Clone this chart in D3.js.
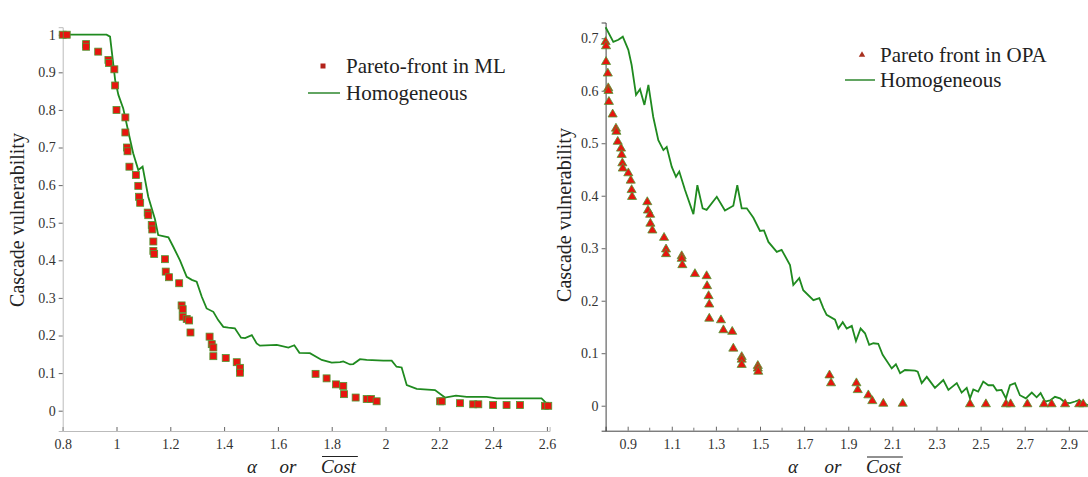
<!DOCTYPE html>
<html><head><meta charset="utf-8">
<script src="https://cdn.jsdelivr.net/npm/d3@7/dist/d3.min.js"></script>
<style>
body{margin:0;background:#fff;}
svg text{font-family:'Liberation Serif','DejaVu Serif','Liberation Sans',Arial,sans-serif;}
</style></head>
<body><svg id="chart" width="1088" height="477"></svg>
<script>
// ---------- DATA ----------
const leftXTicks = [0.8,1,1.2,1.4,1.6,1.8,2,2.2,2.4,2.6];
const leftYTicks = [0,0.1,0.2,0.3,0.4,0.5,0.6,0.7,0.8,0.9,1];
const rightXTicks = [0.9,1.1,1.3,1.5,1.7,1.9,2.1,2.3,2.5,2.7,2.9];
const rightXMinor = [1.0,1.2,1.4,1.6,1.8,2.0,2.2,2.4,2.6,2.8];
const rightYTicks = [0,0.1,0.2,0.3,0.4,0.5,0.6,0.7];

const leftPareto = [[0.80,1.0],[0.815,1.0],[0.887,0.975],[0.887,0.968],[0.932,0.955],[0.97,0.933],[0.972,0.925],[0.992,0.908],[0.995,0.865],[1.0,0.80],[1.033,0.78],[1.033,0.74],[1.039,0.70],[1.041,0.69],[1.048,0.649],[1.072,0.627],[1.081,0.598],[1.084,0.569],[1.088,0.553],[1.116,0.527],[1.118,0.52],[1.131,0.494],[1.133,0.482],[1.137,0.45],[1.137,0.425],[1.14,0.417],[1.18,0.403],[1.183,0.37],[1.195,0.355],[1.233,0.339],[1.242,0.28],[1.246,0.27],[1.246,0.25],[1.261,0.244],[1.27,0.24],[1.275,0.208],[1.346,0.197],[1.354,0.177],[1.36,0.168],[1.36,0.145],[1.406,0.14],[1.447,0.129],[1.459,0.114],[1.459,0.101],[1.74,0.098],[1.781,0.086],[1.816,0.07],[1.843,0.066],[1.846,0.044],[1.889,0.035],[1.93,0.031],[1.946,0.031],[1.967,0.025],[2.203,0.025],[2.209,0.025],[2.277,0.02],[2.326,0.017],[2.345,0.017],[2.40,0.015],[2.45,0.015],[2.50,0.015],[2.593,0.013],[2.605,0.013]];

const leftHomo = [[0.8,1.0],[0.963,1.0],[0.976,0.995],[0.995,0.879],[1.007,0.84],[1.025,0.804],[1.044,0.742],[1.062,0.685],[1.081,0.64],[1.097,0.649],[1.118,0.569],[1.143,0.509],[1.155,0.467],[1.193,0.461],[1.211,0.436],[1.236,0.40],[1.261,0.356],[1.28,0.348],[1.298,0.343],[1.317,0.303],[1.335,0.272],[1.36,0.263],[1.378,0.241],[1.397,0.223],[1.416,0.221],[1.44,0.219],[1.463,0.194],[1.478,0.193],[1.503,0.201],[1.521,0.179],[1.533,0.173],[1.596,0.175],[1.639,0.168],[1.661,0.174],[1.68,0.154],[1.719,0.153],[1.763,0.135],[1.8,0.128],[1.831,0.129],[1.843,0.131],[1.868,0.123],[1.88,0.124],[1.905,0.137],[1.93,0.135],[1.992,0.133],[2.023,0.133],[2.041,0.117],[2.06,0.115],[2.079,0.068],[2.116,0.058],[2.184,0.055],[2.221,0.035],[2.262,0.04],[2.302,0.037],[2.376,0.037],[2.413,0.033],[2.58,0.033],[2.605,0.015]];

const rightPareto = [[0.8,0.693],[0.802,0.685],[0.802,0.655],[0.81,0.633],[0.812,0.605],[0.813,0.6],[0.815,0.579],[0.832,0.555],[0.847,0.528],[0.849,0.522],[0.855,0.503],[0.87,0.49],[0.873,0.478],[0.876,0.462],[0.878,0.452],[0.903,0.443],[0.914,0.429],[0.918,0.411],[0.92,0.398],[0.989,0.388],[0.992,0.372],[1.002,0.364],[1.003,0.347],[1.012,0.334],[1.065,0.32],[1.074,0.298],[1.074,0.289],[1.145,0.285],[1.145,0.28],[1.148,0.268],[1.205,0.251],[1.258,0.247],[1.26,0.228],[1.267,0.209],[1.27,0.193],[1.27,0.166],[1.323,0.163],[1.334,0.144],[1.374,0.141],[1.379,0.109],[1.417,0.093],[1.417,0.088],[1.417,0.078],[1.49,0.076],[1.49,0.071],[1.492,0.065],[1.815,0.058],[1.822,0.043],[1.937,0.043],[1.943,0.03],[1.991,0.02],[2.009,0.009],[2.059,0.004],[2.147,0.004],[2.452,0.003],[2.524,0.003],[2.615,0.003],[2.636,0.003],[2.712,0.003],[2.787,0.003],[2.822,0.003],[2.883,0.003],[2.947,0.003],[2.965,0.003]];

const rightHomo = [[0.8,0.721],[0.835,0.693],[0.858,0.697],[0.878,0.703],[0.903,0.678],[0.918,0.649],[0.938,0.592],[0.956,0.603],[0.976,0.573],[0.994,0.611],[1.016,0.55],[1.039,0.506],[1.062,0.487],[1.077,0.493],[1.1,0.455],[1.119,0.436],[1.134,0.446],[1.16,0.411],[1.198,0.365],[1.216,0.42],[1.24,0.376],[1.258,0.373],[1.304,0.398],[1.341,0.372],[1.379,0.381],[1.397,0.42],[1.417,0.376],[1.44,0.376],[1.47,0.358],[1.5,0.333],[1.518,0.334],[1.538,0.312],[1.576,0.293],[1.598,0.297],[1.636,0.268],[1.651,0.23],[1.678,0.243],[1.696,0.22],[1.742,0.201],[1.769,0.205],[1.787,0.186],[1.802,0.173],[1.84,0.164],[1.855,0.147],[1.875,0.159],[1.893,0.147],[1.916,0.152],[1.935,0.123],[1.956,0.147],[1.976,0.138],[1.995,0.116],[2.014,0.119],[2.036,0.118],[2.056,0.097],[2.097,0.071],[2.116,0.079],[2.135,0.062],[2.157,0.068],[2.203,0.067],[2.215,0.065],[2.233,0.043],[2.256,0.055],[2.293,0.034],[2.331,0.049],[2.354,0.03],[2.392,0.043],[2.414,0.025],[2.437,0.034],[2.452,0.014],[2.467,0.031],[2.489,0.027],[2.512,0.046],[2.535,0.039],[2.557,0.039],[2.573,0.029],[2.595,0.03],[2.615,0.014],[2.633,0.039],[2.656,0.043],[2.678,0.02],[2.705,0.014],[2.732,0.025],[2.754,0.016],[2.772,0.024],[2.792,0.008],[2.815,0.01],[2.837,0.017],[2.86,0.014],[2.883,0.006],[2.905,0.005],[2.928,0.008],[2.947,0.011],[2.965,0.005],[2.987,0.001]];

const yLabel = "Cascade vulnerability";
const leftLegend = ["Pareto-front in ML","Homogeneous"];
const rightLegend = ["Pareto front in OPA","Homogeneous"];

// ---------- DRAW ----------
const svg = d3.select("#chart");
const GREEN = "#1f8a1f", RED = "#e8150f", EDGE = "#4f9a35";
const fmt = d => String(+d.toFixed(1));

const xL = d3.scaleLinear().domain([0.8, 2.61]).range([62.7, 549.6]);
const yL = d3.scaleLinear().domain([-0.054, 1.02]).range([431, 27.2]);
const xR = d3.scaleLinear().domain([0.8, 3.0]).range([605.6, 1090.9]);
const yR = d3.scaleLinear().domain([-0.0476, 0.73]).range([430.7, 22.5]);

function axes(x, y, xt, yt, col, minor){
  const gx = svg.append("g").attr("transform", `translate(0,${y.range()[0]})`)
    .call(d3.axisBottom(x).tickValues(xt).tickSize(-4).tickPadding(8).tickFormat(fmt));
  gx.attr("font-family", null);
  gx.select(".domain").attr("stroke", col);
  gx.selectAll(".tick line").attr("stroke", "#666");
  gx.selectAll("text").attr("font-size", 14).attr("fill", "#333");
  if (minor){
    svg.append("g").selectAll("line").data(minor).join("line")
      .attr("x1", d => x(d)).attr("x2", d => x(d))
      .attr("y1", y.range()[0]).attr("y2", y.range()[0]-3)
      .attr("stroke", "#777");
  }
  const gy = svg.append("g").attr("transform", `translate(${x.range()[0]},0)`)
    .call(d3.axisLeft(y).tickValues(yt).tickSize(4).tickPadding(3).tickFormat(fmt));
  gy.attr("font-family", null);
  gy.select(".domain").attr("stroke", col);
  gy.selectAll(".tick line").attr("stroke", "#666");
  gy.selectAll("text").attr("font-size", 14).attr("fill", "#333");
}
axes(xL, yL, leftXTicks, leftYTicks, "#bbb", null);
axes(xR, yR, rightXTicks, rightYTicks, "#444", rightXMinor);

const lineL = d3.line().x(d => xL(d[0])).y(d => yL(d[1]));
const lineR = d3.line().x(d => xR(d[0])).y(d => yR(d[1]));
svg.append("path").datum(leftHomo).attr("d", lineL)
  .attr("fill","none").attr("stroke",GREEN).attr("stroke-width",1.8);
svg.append("path").datum(rightHomo).attr("d", lineR)
  .attr("fill","none").attr("stroke",GREEN).attr("stroke-width",1.8);

const sq = 7;
svg.append("g").selectAll("rect").data(leftPareto).join("rect")
  .attr("x", d => xL(d[0]) - sq/2).attr("y", d => yL(d[1]) - sq/2)
  .attr("width", sq).attr("height", sq)
  .attr("fill", RED).attr("stroke", EDGE).attr("stroke-width", 0.8);

const tri = d3.symbol().type(d3.symbolTriangle).size(36);
svg.append("g").selectAll("path").data(rightPareto).join("path")
  .attr("d", tri)
  .attr("transform", d => `translate(${xR(d[0])},${yR(d[1])})`)
  .attr("fill", RED).attr("stroke", EDGE).attr("stroke-width", 0.8);

function ylab(x, y){
  svg.append("text").attr("transform", `translate(${x},${y}) rotate(-90)`)
    .attr("text-anchor","middle").attr("font-size", 20).attr("fill","#222")
    .text(yLabel);
}
ylab(24, 220);
ylab(571, 215);

function xlab(ax, orx, cx, oly){
  const base = 473, fs = 19;
  svg.append("text").attr("x", ax).attr("y", base).attr("font-size", fs)
    .attr("font-style","italic").attr("fill","#222").attr("text-anchor","middle").text("α");
  svg.append("text").attr("x", orx).attr("y", base).attr("font-size", fs)
    .attr("font-style","italic").attr("fill","#222").attr("text-anchor","middle").text("or");
  const t = svg.append("text").attr("x", cx).attr("y", base).attr("font-size", fs)
    .attr("font-style","italic").attr("fill","#222").attr("text-anchor","start").text("Cost");
  const w = t.node().getComputedTextLength();
  svg.append("line").attr("x1", cx+1).attr("x2", cx+w+2).attr("y1", oly).attr("y2", oly)
    .attr("stroke","#222").attr("stroke-width",1.2);
}
xlab(252, 288, 321, 456.5);
xlab(793, 833, 866, 457);

function legend(mx, my, lx1, lx2, ly, tx, labels, shape){
  if (shape === "sq"){
    svg.append("rect").attr("x", mx-2.5).attr("y", my-2.5).attr("width",5).attr("height",5)
      .attr("fill","#b3221a");
  } else {
    svg.append("path").attr("d", d3.symbol().type(d3.symbolTriangle).size(18))
      .attr("transform",`translate(${mx},${my})`).attr("fill","#a8301f");
  }
  svg.append("text").attr("x", tx).attr("y", my).attr("dy","0.35em")
    .attr("font-size", 21).attr("fill","#222").text(labels[0]);
  svg.append("line").attr("x1", lx1).attr("x2", lx2).attr("y1", ly).attr("y2", ly)
    .attr("stroke", "#3b8f3b").attr("stroke-width", 1.6);
  svg.append("text").attr("x", tx).attr("y", ly).attr("dy","0.35em")
    .attr("font-size", 21).attr("fill","#222").text(labels[1]);
}
legend(323, 66, 308, 340, 93, 346, leftLegend, "sq");
legend(862, 55, 845, 875, 80, 880, rightLegend, "tri");
</script></body></html>
